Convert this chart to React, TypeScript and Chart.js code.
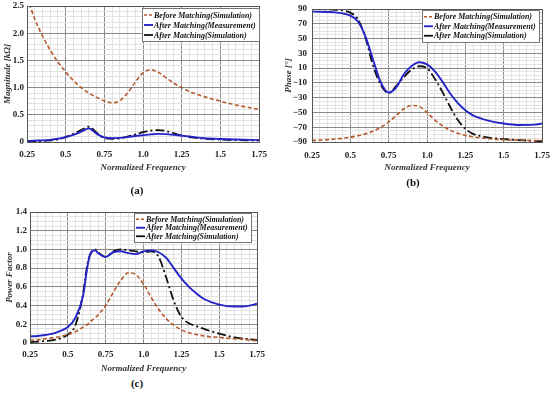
import React, { useEffect, useRef } from "react";
import { Chart, registerables } from "chart.js";

Chart.register(...registerables);

// ---------- labels ----------
const LABEL_BEFORE = "Before Matching(Simulation)";
const LABEL_MEAS = "After Matching(Measurement)";
const LABEL_SIM = "After Matching(Simulation)";
const X_TITLE = "Normalized Frequency";

// ---------- panel (a): magnitude [kΩ] ----------
const magFreq = [0.25, 0.27, 0.3, 0.35, 0.4, 0.45, 0.5, 0.55, 0.6, 0.65, 0.7, 0.75, 0.8, 0.85, 0.9, 0.95, 1.0, 1.05, 1.1, 1.15, 1.2, 1.25, 1.3, 1.4, 1.5, 1.6, 1.75];
const magBefore = [2.65, 2.5, 2.26, 1.95, 1.69, 1.47, 1.29, 1.13, 1.0, 0.9, 0.82, 0.755, 0.72, 0.76, 0.9, 1.1, 1.27, 1.33, 1.28, 1.18, 1.08, 1.0, 0.93, 0.83, 0.75, 0.68, 0.6];
const magMeas = [0.02, 0.02, 0.025, 0.03, 0.04, 0.06, 0.09, 0.13, 0.19, 0.25, 0.15, 0.085, 0.07, 0.075, 0.09, 0.11, 0.125, 0.14, 0.15, 0.145, 0.13, 0.115, 0.1, 0.07, 0.055, 0.045, 0.035];
const magSim = [0.01, 0.01, 0.015, 0.02, 0.03, 0.05, 0.09, 0.15, 0.22, 0.28, 0.17, 0.07, 0.06, 0.07, 0.1, 0.14, 0.18, 0.21, 0.22, 0.2, 0.16, 0.12, 0.09, 0.06, 0.045, 0.035, 0.03];
const magTicksMajor = 0.5;

// ---------- panel (b): phase [°] ----------
const phaseFreq = [0.25, 0.3, 0.35, 0.4, 0.45, 0.5, 0.55, 0.6, 0.65, 0.7, 0.75, 0.8, 0.85, 0.9, 0.95, 1.0, 1.05, 1.1, 1.15, 1.2, 1.25, 1.3, 1.35, 1.4, 1.5, 1.6, 1.7, 1.75];
const phaseBefore = [-88, -87.5, -87, -86, -85, -83.5, -81.5, -79, -75, -70, -63, -54, -45, -40.5, -42, -50, -60, -68, -74, -78, -81, -83, -84.5, -85.5, -87, -87.5, -88, -88];
const phaseMeas = [86.5, 86.3, 86, 85.5, 84, 81, 73, 52, 20, -10, -23, -16, 2, 13, 18, 15, 6, -8, -24, -37, -47, -54, -58, -61, -65, -67, -66.5, -65];
const phaseSim = [90, 89.8, 89.5, 89, 88, 85, 76, 50, 12, -13, -24, -14, -2, 8, 12.5, 10, -4, -22, -42, -60, -72, -79, -82, -84, -86, -87.5, -88.5, -89];

// ---------- panel (c): power factor ----------
const pfFreq = [0.25, 0.3, 0.35, 0.4, 0.45, 0.5, 0.55, 0.6, 0.63, 0.65, 0.68, 0.7, 0.75, 0.8, 0.85, 0.9, 0.95, 1.0, 1.05, 1.1, 1.15, 1.2, 1.25, 1.3, 1.35, 1.4, 1.5, 1.6, 1.65, 1.7, 1.75];
const pfBefore = [0.03, 0.035, 0.045, 0.055, 0.07, 0.09, 0.12, 0.17, 0.2, 0.23, 0.27, 0.3, 0.4, 0.54, 0.67, 0.75, 0.73, 0.63, 0.49, 0.36, 0.26, 0.19, 0.14, 0.11, 0.09, 0.075, 0.06, 0.045, 0.04, 0.03, 0.025];
const pfMeas = [0.07, 0.075, 0.085, 0.1, 0.13, 0.17, 0.27, 0.5, 0.82, 0.96, 0.99, 0.96, 0.92, 0.97, 0.98, 0.96, 0.95, 0.98, 0.99, 0.97, 0.91, 0.8, 0.69, 0.6, 0.53, 0.47, 0.41, 0.39, 0.39, 0.4, 0.42];
const pfSim = [0.01, 0.015, 0.02, 0.03, 0.05, 0.09, 0.19, 0.52, 0.85, 0.95, 1.0, 0.97, 0.92, 0.98, 1.0, 0.99, 0.98, 0.97, 0.98, 0.92, 0.7, 0.45, 0.28, 0.21, 0.18, 0.15, 0.1, 0.06, 0.05, 0.04, 0.03];

// ---------- styles ----------
const SERIF = "'Liberation Serif', 'DejaVu Serif', serif";
const COLOR_BEFORE = "#B5582A";
const COLOR_MEAS = "#2424C8";
const COLOR_SIM = "#111111";
const GRID_MAJOR = "#8a8a8a";
const GRID_MINOR = "#e2e2e2";

function pts(xs: number[], ys: number[]) {
  return xs.map((x, i) => ({ x, y: ys[i] }));
}

function isMultiple(v: number, step: number) {
  const r = v / step;
  return Math.abs(r - Math.round(r)) < 1e-6;
}

const boxLegend = {
  id: "boxLegend",
  afterDraw(chart: any, _args: any, opts: any) {
    const ctx = chart.ctx;
    const area = chart.chartArea;
    ctx.save();
    // plot frame
    ctx.strokeStyle = "#555";
    ctx.lineWidth = 1;
    ctx.strokeRect(Math.round(area.left) + 0.5, Math.round(area.top) + 0.5, Math.round(area.right - area.left), Math.round(area.bottom - area.top));
    if (opts && opts.show) {
      ctx.font = `italic bold 8px ${SERIF}`;
      const dsets = chart.data.datasets;
      const textW = Math.max(...dsets.map((d: any) => ctx.measureText(d.label).width));
      const sample = 9, gap = 1, padX = 2, rowH = opts.rowH;
      const w = Math.round(padX + sample + gap + textW + padX + 1);
      const h = Math.round(rowH * dsets.length + 3);
      const x = Math.round(area.right - opts.right - w);
      const y = Math.round(area.top + opts.top);
      ctx.fillStyle = "#fff";
      ctx.fillRect(x, y, w, h);
      ctx.strokeStyle = "#777";
      ctx.strokeRect(x + 0.5, y + 0.5, w, h);
      dsets.forEach((d: any, i: number) => {
        const cy = y + 2 + rowH * (i + 0.5);
        ctx.strokeStyle = d.borderColor;
        ctx.lineWidth = d.borderWidth;
        ctx.setLineDash(d.legendDash || []);
        ctx.beginPath();
        ctx.moveTo(x + padX, cy);
        ctx.lineTo(x + padX + sample, cy);
        ctx.stroke();
        ctx.setLineDash([]);
        ctx.fillStyle = "#111";
        ctx.textBaseline = "middle";
        ctx.textAlign = "left";
        ctx.fillText(d.label, x + padX + sample + gap, cy + 0.5);
      });
    }
    ctx.restore();
  },
};

type PanelDef = {
  left: number; top: number; width: number; height: number;
  padTop: number; padRight: number;
  yAxisW: number; xAxisH: number;
  yTitle: string; yTitlePad: number; yTickPad: number; xTickPad: number; xTitlePad: number;
  yMin: number; yMax: number; yStep: number; yMajor: number;
  yFormat: (v: number) => string;
  freq: number[]; before: number[]; meas: number[]; sim: number[];
  legendRight: number; legendTop: number; legendRowH: number;
};

function datasets(def: PanelDef) {
  return [
    { label: LABEL_BEFORE, data: pts(def.freq, def.before), borderColor: COLOR_BEFORE, borderWidth: 1.6, borderDash: [4, 2.5], legendDash: [3, 2] },
    { label: LABEL_MEAS, data: pts(def.freq, def.meas), borderColor: COLOR_MEAS, borderWidth: 1.9, borderDash: [], legendDash: [] },
    { label: LABEL_SIM, data: pts(def.freq, def.sim), borderColor: COLOR_SIM, borderWidth: 1.8, borderDash: [9, 3, 2, 3], legendDash: [] },
  ];
}

function Panel({ def }: { def: PanelDef }) {
  const ref = useRef<HTMLCanvasElement | null>(null);
  useEffect(() => {
    if (!ref.current) return;
    const tickFont = { family: SERIF, size: 9, weight: "bold" as const };
    const titleFont = { family: SERIF, size: 9, weight: "bold" as const, style: "italic" as const };
    const chart = new Chart(ref.current, {
      type: "line",
      data: { datasets: datasets(def) as any },
      plugins: [boxLegend as any],
      options: {
        responsive: false,
        animation: false,
        devicePixelRatio: 1,
        layout: { padding: { left: 0, top: def.padTop, right: def.padRight, bottom: 0 } },
        elements: { point: { radius: 0 }, line: { cubicInterpolationMode: "monotone", fill: false } },
        plugins: {
          legend: { display: false },
          tooltip: { enabled: false },
          boxLegend: { show: true, right: def.legendRight, top: def.legendTop, rowH: def.legendRowH },
        } as any,
        scales: {
          x: {
            type: "linear",
            min: 0.25,
            max: 1.75,
            afterFit: (s: any) => { s.height = def.xAxisH; s.paddingLeft = 0; s.paddingRight = 0; },
            ticks: {
              stepSize: 0.05,
              autoSkip: false,
              maxRotation: 0,
              minRotation: 0,
              padding: def.xTickPad,
              color: "#222",
              font: tickFont,
              callback: (v: any) => {
                const n = Number(v);
                if (!isMultiple(n, 0.25)) return "";
                const r = Math.round(n * 100) / 100;
                return Math.abs(r - 1) < 1e-9 ? "1.0" : String(r);
              },
            },
            grid: {
              drawTicks: false,
              color: (c: any) => (c.tick && isMultiple(c.tick.value, 0.25) ? GRID_MAJOR : GRID_MINOR),
              lineWidth: 1,
            },
            border: { display: false },
            title: { display: true, text: X_TITLE, color: "#333", font: titleFont, padding: { top: 0, bottom: def.xTitlePad } },
          },
          y: {
            type: "linear",
            min: def.yMin,
            max: def.yMax,
            afterFit: (s: any) => { s.width = def.yAxisW; s.paddingTop = 0; s.paddingBottom = 0; },
            ticks: {
              stepSize: def.yStep,
              autoSkip: false,
              padding: def.yTickPad,
              color: "#222",
              font: tickFont,
              callback: (v: any) => {
                const n = Number(v);
                if (!isMultiple(n - def.yMin, def.yMajor)) return "";
                return def.yFormat(n);
              },
            },
            grid: {
              drawTicks: false,
              color: (c: any) => (c.tick && isMultiple(c.tick.value - def.yMin, def.yMajor) ? GRID_MAJOR : GRID_MINOR),
              lineWidth: 1,
            },
            border: { display: false },
            title: { display: true, text: def.yTitle, color: "#333", font: titleFont, padding: { top: def.yTitlePad, bottom: 0 } },
          },
        },
      },
    });
    return () => chart.destroy();
  }, [def]);
  return (
    <canvas
      ref={ref}
      width={def.width}
      height={def.height}
      style={{ position: "absolute", left: def.left, top: def.top, width: def.width, height: def.height }}
    />
  );
}

const fmt1 = (v: number) => (Math.abs(v) < 1e-9 ? "0" : (Math.round(v * 10) / 10).toFixed(1));
const fmtPhase = (v: number) => {
  const r = Math.round(v);
  return r < 0 ? "\u2212" + Math.abs(r) : String(r);
};

const panelA: PanelDef = {
  left: 0, top: 0, width: 270, height: 174,
  padTop: 6, padRight: 11, yAxisW: 27, xAxisH: 32,
  yTitle: "Magnitude [k\u03A9]", yTitlePad: 2, yTickPad: 3, xTickPad: 7, xTitlePad: 1,
  yMin: 0, yMax: 2.5, yStep: 0.1, yMajor: magTicksMajor, yFormat: fmt1,
  freq: magFreq, before: magBefore, meas: magMeas, sim: magSim,
  legendRight: 0, legendTop: 2, legendRowH: 10,
};

const panelB: PanelDef = {
  left: 275, top: 0, width: 275, height: 174,
  padTop: 9, padRight: 8, yAxisW: 37, xAxisH: 32,
  yTitle: "Phase [\u00B0]", yTitlePad: 8, yTickPad: 5, xTickPad: 8, xTitlePad: 1,
  yMin: -90, yMax: 90, yStep: 5, yMajor: 20, yFormat: fmtPhase,
  freq: phaseFreq, before: phaseBefore, meas: phaseMeas, sim: phaseSim,
  legendRight: 3, legendTop: 1, legendRowH: 9.5,
};

const panelC: PanelDef = {
  left: 0, top: 190, width: 268, height: 185,
  padTop: 22, padRight: 11, yAxisW: 30, xAxisH: 32,
  yTitle: "Power Factor", yTitlePad: 4, yTickPad: 3, xTickPad: 6, xTitlePad: 1,
  yMin: 0, yMax: 1.4, yStep: 0.05, yMajor: 0.2, yFormat: fmt1,
  freq: pfFreq, before: pfBefore, meas: pfMeas, sim: pfSim,
  legendRight: 6, legendTop: 1, legendRowH: 8.5,
};

const letterStyle: React.CSSProperties = {
  position: "absolute",
  width: 40,
  marginLeft: -20,
  textAlign: "center",
  fontFamily: SERIF,
  fontWeight: "bold",
  fontSize: 11,
  lineHeight: "12px",
  color: "#111",
};

export default function App() {
  return (
    <div style={{ position: "fixed", left: 0, top: 0, width: 550, height: 394, background: "#fff", overflow: "hidden" }}>
      <Panel def={panelA} />
      <Panel def={panelB} />
      <Panel def={panelC} />
      <div style={{ ...letterStyle, left: 137, top: 184 }}>(a)</div>
      <div style={{ ...letterStyle, left: 413, top: 176 }}>(b)</div>
      <div style={{ ...letterStyle, left: 137, top: 377 }}>(c)</div>
    </div>
  );
}
